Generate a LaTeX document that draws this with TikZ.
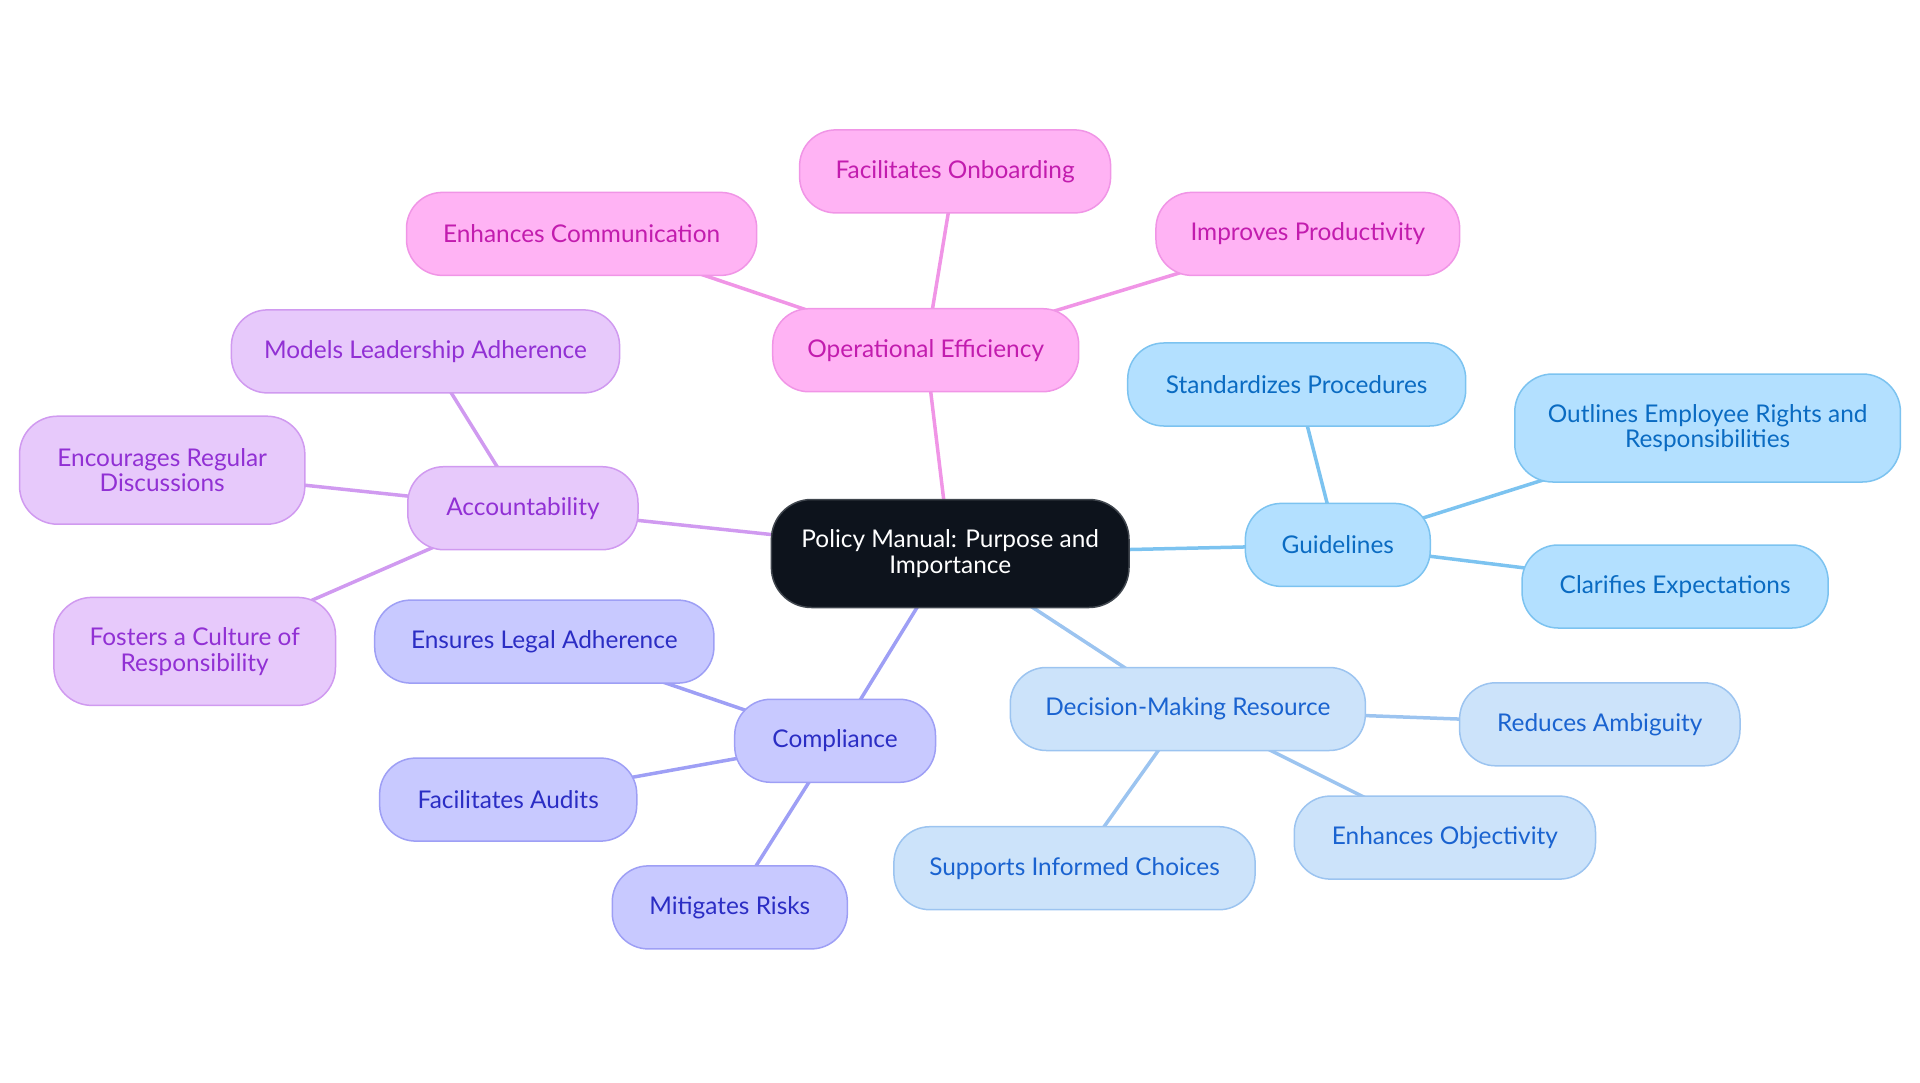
\documentclass[tikz,border=0pt]{standalone}
\usepackage{fontspec}
\setmainfont{Lato}
\usetikzlibrary{backgrounds}
\definecolor{pinkF}{HTML}{FFB3F4}
\definecolor{pinkB}{HTML}{F095E6}
\definecolor{pinkT}{HTML}{C21CAE}
\definecolor{purF}{HTML}{E7C9FB}
\definecolor{purB}{HTML}{D09AF0}
\definecolor{purT}{HTML}{9130D4}
\definecolor{lavF}{HTML}{C8C9FF}
\definecolor{lavB}{HTML}{9E9FF5}
\definecolor{lavT}{HTML}{2B2DC4}
\definecolor{bluF}{HTML}{B3E0FF}
\definecolor{bluB}{HTML}{7CC3F0}
\definecolor{bluT}{HTML}{0A6BC2}
\definecolor{decF}{HTML}{CCE3FA}
\definecolor{decB}{HTML}{9CC4F0}
\definecolor{decT}{HTML}{1A63D0}
\definecolor{rootF}{HTML}{0D131C}
\definecolor{rootB}{HTML}{40464E}
\tikzset{
  mm/.style={rectangle, rounded corners=36pt, line width=1.5pt, minimum height=83pt,
    inner sep=0pt, align=center, font=\fontsize{24.4pt}{25.5pt}\selectfont},
  mw/.style={minimum width=#1},
  rootnode/.style={mm, fill=rootF, draw=rootB, text=white, minimum height=108pt, rounded corners=40pt},
  pinknode/.style={mm, fill=pinkF, draw=pinkB, text=pinkT},
  purnode/.style={mm, fill=purF, draw=purB, text=purT},
  lavnode/.style={mm, fill=lavF, draw=lavB, text=lavT},
  blunode/.style={mm, fill=bluF, draw=bluB, text=bluT},
  decnode/.style={mm, fill=decF, draw=decB, text=decT},
  twoline/.style={minimum height=108pt, rounded corners=38pt},
  edge/.style={line width=3.5pt},
}
\begin{document}
\begin{tikzpicture}[x=1pt, y=-1pt]
\useasboundingbox (0,0) rectangle (1920,1083);
% root
\node[rootnode, mw=357.6pt] (root) at (950.2,553.5) {Policy Manual: Purpose and\\Importance};
% operational efficiency
\node[pinknode, mw=306pt] (ope) at (925.7,350.2) {Operational Efficiency};
\node[pinknode, mw=311pt] (onb) at (955.1,171.4) {Facilitates Onboarding};
\node[pinknode, mw=350.2pt] (com) at (581.6,233.9) {Enhances Communication};
\node[pinknode, mw=303.7pt] (pro) at (1307.8,233.9) {Improves Productivity};
% accountability
\node[purnode, mw=230.2pt] (acc) at (522.9,508.2) {Accountability};
\node[purnode, mw=388.2pt] (mod) at (425.5,351.4) {Models Leadership Adherence};
\node[purnode, twoline, mw=285.3pt] (enc) at (162.2,470.2) {Encourages Regular\\Discussions};
\node[purnode, twoline, mw=281.6pt] (fos) at (194.7,651.4) {Fosters a Culture of\\Responsibility};
% compliance
\node[lavnode, mw=200.8pt] (cpl) at (835.1,740.8) {Compliance};
\node[lavnode, mw=339.2pt] (leg) at (544.3,641.6) {Ensures Legal Adherence};
\node[lavnode, mw=257.1pt] (aud) at (508.2,799.6) {Facilitates Audits};
\node[lavnode, mw=235.1pt] (mit) at (729.8,907.4) {Mitigates Risks};
% guidelines
\node[blunode, mw=184.9pt] (gui) at (1337.8,544.9) {Guidelines};
\node[blunode, mw=338pt] (sta) at (1296.7,384.5) {Standardizes Procedures};
\node[blunode, twoline, mw=385.7pt] (out) at (1707.6,428) {Outlines Employee Rights and\\Responsibilities};
\node[blunode, mw=306.1pt] (cla) at (1675.1,586.5) {Clarifies Expectations};
% decision making
\node[decnode, mw=355.1pt] (dec) at (1187.8,709) {Decision-Making Resource};
\node[decnode, mw=280.4pt] (red) at (1599.8,724.3) {Reduces Ambiguity};
\node[decnode, mw=301.2pt] (obj) at (1444.9,837.6) {Enhances Objectivity};
\node[decnode, mw=361.2pt] (sup) at (1074.5,868.2) {Supports Informed Choices};
\begin{pgfonlayer}{background}
\draw[edge, pinkB] (root.center) -- (ope.center);
\draw[edge, pinkB] (ope.center) -- (onb.center);
\draw[edge, pinkB] (ope.center) -- (com.center);
\draw[edge, pinkB] (ope.center) -- (pro.center);
\draw[edge, purB] (root.center) -- (acc.center);
\draw[edge, purB] (acc.center) -- (mod.center);
\draw[edge, purB] (acc.center) -- (enc.center);
\draw[edge, purB] (acc.center) -- (fos.center);
\draw[edge, lavB] (root.center) -- (cpl.center);
\draw[edge, lavB] (cpl.center) -- (leg.center);
\draw[edge, lavB] (cpl.center) -- (aud.center);
\draw[edge, lavB] (cpl.center) -- (mit.center);
\draw[edge, bluB] (root.center) -- (gui.center);
\draw[edge, bluB] (gui.center) -- (sta.center);
\draw[edge, bluB] (gui.center) -- (out.center);
\draw[edge, bluB] (gui.center) -- (cla.center);
\draw[edge, decB] (root.center) -- (dec.center);
\draw[edge, decB] (dec.center) -- (red.center);
\draw[edge, decB] (dec.center) -- (obj.center);
\draw[edge, decB] (dec.center) -- (sup.center);
\end{pgfonlayer}
\end{tikzpicture}
\end{document}
